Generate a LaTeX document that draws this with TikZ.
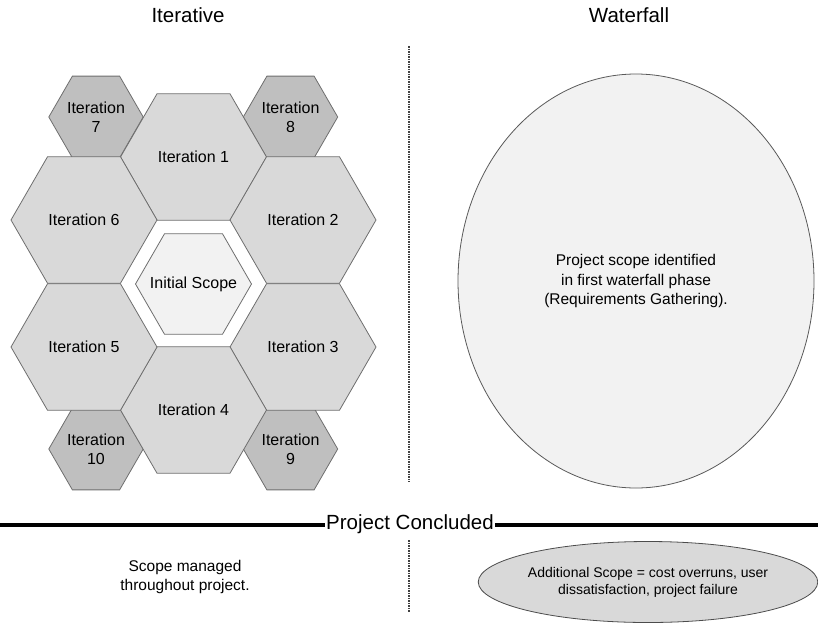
\documentclass[tikz,border=0pt]{standalone}
\usepackage{fontspec}
\setmainfont{Liberation Sans}
\usepackage{tikz}
\usetikzlibrary{shapes.geometric,positioning,calc}
\definecolor{hexbig}{HTML}{D9D9D9}
\definecolor{hexsmall}{HTML}{BFBFBF}
\definecolor{hexcore}{HTML}{F2F2F2}
\definecolor{edgegray}{HTML}{6E6E6E}
\tikzset{
  hexbox/.style={regular polygon, regular polygon sides=6, draw=edgegray, line width=0.8pt,
                 fill=hexbig, minimum size=146pt, inner sep=0pt, align=center,
                 font=\fontsize{16}{19}\selectfont},
  hexsmallbox/.style={hexbox, fill=hexsmall, minimum size=92pt},
  hexcorebox/.style={hexbox, fill=hexcore, minimum size=116pt},
  title/.style={font=\fontsize{20.5}{24}\selectfont},
  note/.style={align=center, font=\fontsize{15.5}{19.5}\selectfont},
  divider/.style={draw=black!75, line width=1.7pt, dash pattern=on 1.6pt off 0.9pt},
}
% keeps a label from widening its hexagon
\newcommand{\nowidth}[1]{\makebox[0pt]{#1}}

\begin{document}
\begin{tikzpicture}[x=1pt, y=-1pt]
  \useasboundingbox (0,0) rectangle (818,624);
  % titles
  \node[title] (iter) at (188,15) {Iterative};
  \node[title] (water) at (629,15) {Waterfall};
  % small corner hexagons first, big ones drawn over them
  \node[hexsmallbox] (it7) at (96,117) {Iteration\\7};
  \node[hexsmallbox] (it8) at (290.5,117) {Iteration\\8};
  \node[hexsmallbox] (it9) at (290.5,449) {Iteration\\9};
  \node[hexsmallbox] (it10) at (96,449) {Iteration\\10};
  \node[hexbox] (it1) at (193.5,157) {Iteration 1};
  \node[hexbox] (it2) at (303,220) {Iteration 2};
  \node[hexbox] (it3) at (303,347) {Iteration 3};
  \node[hexbox] (it4) at (193.5,410) {Iteration 4};
  \node[hexbox] (it5) at (84,347) {Iteration 5};
  \node[hexbox] (it6) at (84,220) {Iteration 6};
  \node[hexcorebox] (core) at (193.5,284) {\nowidth{Initial Scope}};
  % waterfall side
  \node[ellipse, draw=black!65, line width=0.8pt, fill=hexcore, minimum width=356pt,
        minimum height=414pt, inner sep=0pt, note] (scope) at (636,281)
        {Project scope identified\\in first waterfall phase\\(Requirements Gathering).};
  % divider between the two approaches
  \coordinate (dtop) at (409,46);
  \coordinate (dmid) at (409,482);
  \coordinate (dlow) at (409,540);
  \coordinate (dbot) at (409,612);
  \draw[divider] (dtop) -- (dmid);
  \draw[divider] (dlow) -- (dbot);
  % end of project
  \node[title, inner sep=1pt] (concl) at (410,524) {Project Concluded};
  \coordinate (lleft) at (0,525);
  \coordinate (lright) at (818,525);
  \draw[line width=3.2pt] (lleft) -- (lleft -| concl.west);
  \draw[line width=3.2pt] (lright -| concl.east) -- (lright);
  \node[note] (managed) at (185,577) {Scope managed\\throughout project.};
  \node[ellipse, draw=black!70, line width=0.8pt, fill=hexbig, minimum width=333pt,
        minimum height=81pt, inner sep=0pt, align=center,
        font=\fontsize{14}{17}\selectfont] (fail) at (648,582)
        {Additional Scope = cost overruns, user\\dissatisfaction, project failure};
\end{tikzpicture}
\end{document}
